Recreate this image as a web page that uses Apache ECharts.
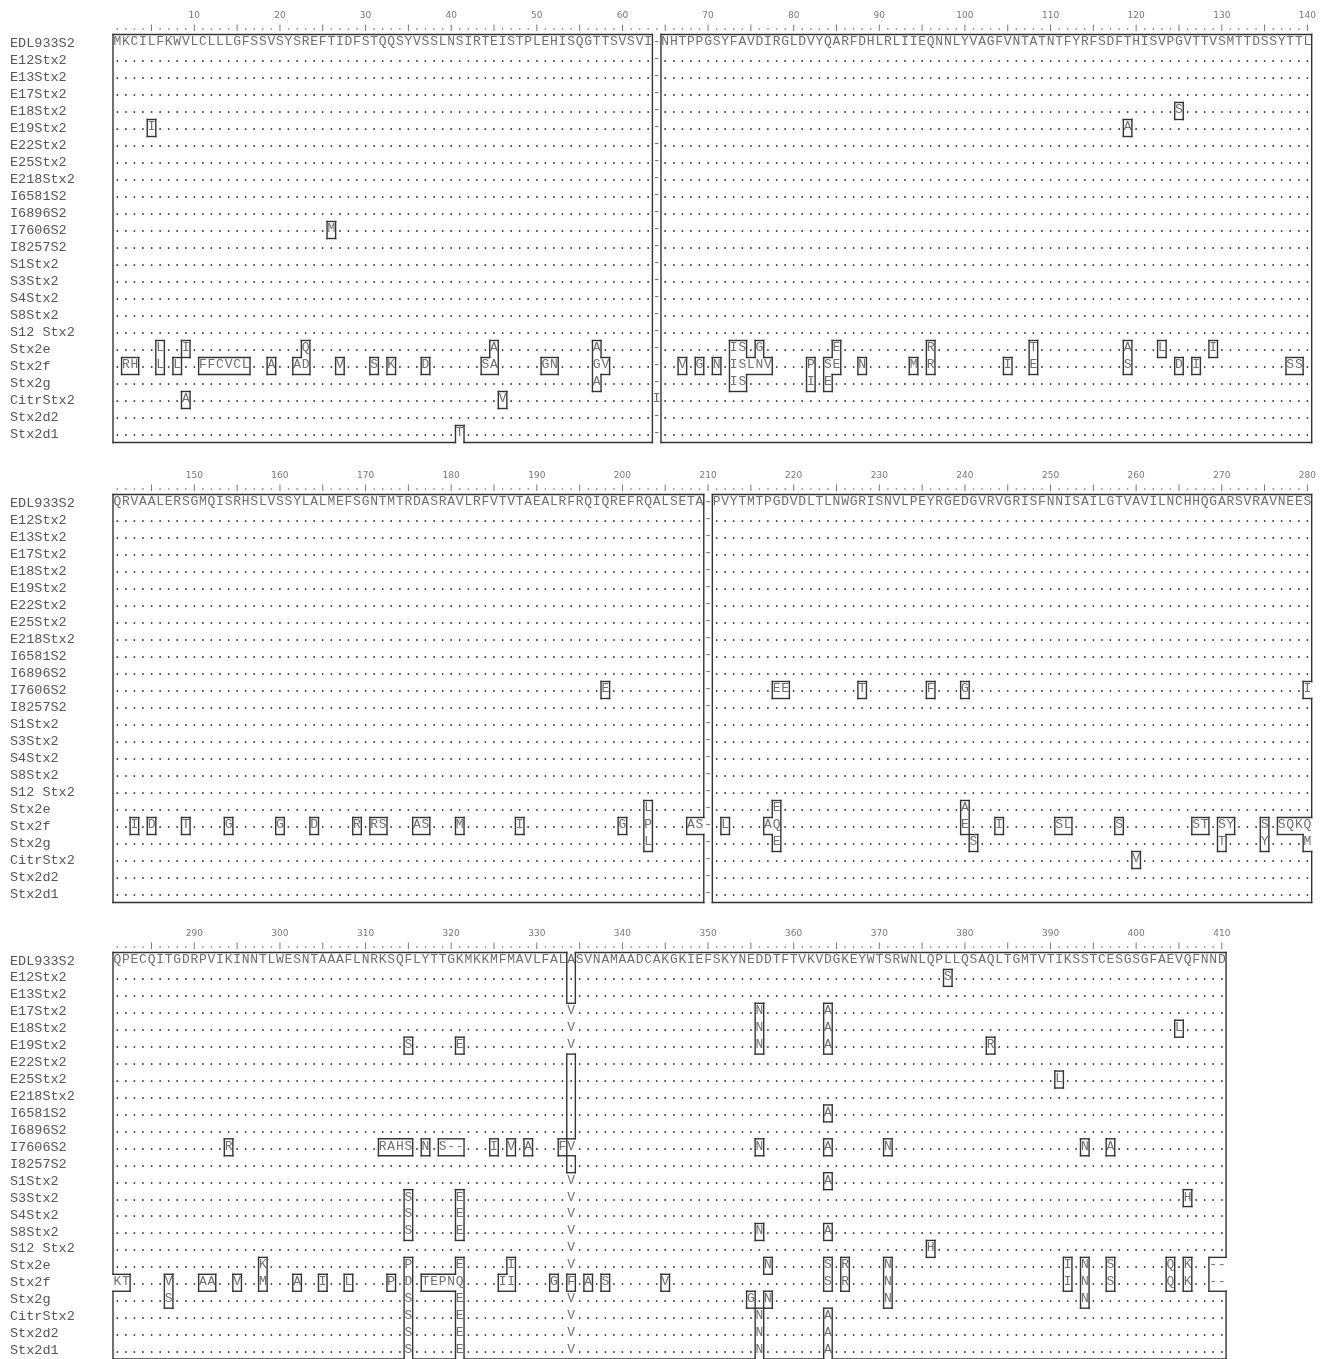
<!DOCTYPE html>
<html><head><meta charset="utf-8">
<script src="https://cdn.jsdelivr.net/npm/echarts@6/dist/echarts.min.js"></script>
<style>html,body{margin:0;padding:0;background:#fff}#c{width:1322px;height:1359px}</style>
</head><body><div id="c"></div>
<script>
// ---------- data ----------
const names = ['EDL933S2','E12Stx2','E13Stx2','E17Stx2','E18Stx2','E19Stx2','E22Stx2','E25Stx2','E218Stx2','I6581S2','I6896S2','I7606S2','I8257S2','S1Stx2','S3Stx2','S4Stx2','S8Stx2','S12 Stx2','Stx2e','Stx2f','Stx2g','CitrStx2','Stx2d2','Stx2d1'];

// reference (EDL933S2) aligned sequence, one string per block
const refBlock1 = 'MKCILFKWVLCLLLGFSSVSYSREFTIDFSTQQSYVSSLNSIRTEISTPLEHISQGTTSVSVI-NHTPPGSYFAVDIRGLDVYQARFDHLRLIIEQNNLYVAGFVNTATNTFYRFSDFTHISVPGVTTVSMTTDSSYTTL';
const refBlock2 = 'QRVAALERSGMQISRHSLVSSYLALMEFSGNTMTRDASRAVLRFVTVTAEALRFRQIQREFRQALSETA-PVYTMTPGDVDLTLNWGRISNVLPEYRGEDGVRVGRISFNNISAILGTVAVILNCHHQGARSVRAVNEES';
const refBlock3 = 'QPECQITGDRPVIKINNTLWESNTAAAFLNRKSQFLYTTGKMKKMFMAVLFALASVNAMAADCAKGKIEFSKYNEDDTFTVKVDGKEYWTSRWNLQPLLQSAQLTGMTVTIKSSTCESGSGFAEVQFNND';

const blockStart = [1, 141, 281];
const blockEnd = [140, 280, 410];
const rulerLabels1 = [10,20,30,40,50,60,70,80,90,100,110,120,130,140];
const rulerLabels2 = [150,160,170,180,190,200,210,220,230,240,250,260,270,280];
const rulerLabels3 = [290,300,310,320,330,340,350,360,370,380,390,400,410];

// substitutions relative to the reference: [alignment column, residue]
const subsEDL933S2 = [];
const subsE12Stx2 = [[378,'S']];
const subsE13Stx2 = [];
const subsE17Stx2 = [[334,'V'],[356,'N'],[364,'A']];
const subsE18Stx2 = [[125,'S'],[334,'V'],[356,'N'],[364,'A'],[405,'L']];
const subsE19Stx2 = [[5,'I'],[119,'A'],[315,'S'],[321,'E'],[334,'V'],[356,'N'],[364,'A'],[383,'R']];
const subsE22Stx2 = [];
const subsE25Stx2 = [[391,'L']];
const subsE218Stx2 = [];
const subsI6581S2 = [[364,'A']];
const subsI6896S2 = [];
const subsI7606S2 = [[26,'M'],[198,'E'],[218,'E'],[219,'E'],[228,'T'],[236,'F'],[240,'G'],[280,'I'],[294,'R'],[312,'R'],[313,'A'],[314,'H'],[315,'S'],[317,'N'],[319,'S'],[320,'-'],[321,'-'],[325,'I'],[327,'V'],[329,'A'],[333,'F'],[334,'V'],[356,'N'],[364,'A'],[371,'N'],[394,'N'],[397,'A']];
const subsI8257S2 = [];
const subsS1Stx2 = [[334,'V'],[364,'A']];
const subsS3Stx2 = [[315,'S'],[321,'E'],[334,'V'],[406,'H']];
const subsS4Stx2 = [[315,'S'],[321,'E'],[334,'V']];
const subsS8Stx2 = [[315,'S'],[321,'E'],[334,'V'],[356,'N'],[364,'A']];
const subsS12Stx2 = [[334,'V'],[376,'H']];
const subsStx2e = [[6,'L'],[9,'I'],[23,'Q'],[45,'A'],[57,'A'],[73,'I'],[74,'S'],[76,'G'],[85,'E'],[96,'R'],[108,'T'],[119,'A'],[123,'L'],[129,'I'],
  [203,'L'],[218,'E'],[240,'A'],
  [298,'K'],[315,'P'],[321,'E'],[327,'I'],[334,'V'],[357,'N'],[364,'S'],[366,'R'],[371,'N'],[392,'I'],[394,'N'],[397,'S'],[404,'Q'],[406,'K'],[409,'-'],[410,'-']];
const subsStx2f = [[2,'R'],[3,'H'],[6,'L'],[8,'L'],[11,'F'],[12,'F'],[13,'C'],[14,'V'],[15,'C'],[16,'L'],[19,'A'],[22,'A'],[23,'D'],[27,'V'],[31,'S'],[33,'K'],[37,'D'],[44,'S'],[45,'A'],[51,'G'],[52,'N'],[57,'G'],[58,'V'],[67,'V'],[69,'G'],[71,'N'],[73,'I'],[74,'S'],[75,'L'],[76,'N'],[77,'V'],[82,'P'],[84,'S'],[85,'E'],[88,'N'],[94,'M'],[96,'R'],[105,'I'],[108,'E'],[119,'S'],[125,'D'],[127,'I'],[138,'S'],[139,'S'],
  [143,'I'],[145,'D'],[149,'T'],[154,'G'],[160,'G'],[164,'D'],[169,'R'],[171,'R'],[172,'S'],[176,'A'],[177,'S'],[181,'M'],[188,'I'],[200,'G'],[203,'P'],[208,'A'],[209,'S'],[212,'L'],[217,'A'],[218,'Q'],[240,'E'],[244,'I'],[251,'S'],[252,'L'],[258,'S'],[267,'S'],[268,'T'],[270,'S'],[271,'Y'],[275,'S'],[277,'S'],[278,'Q'],[279,'K'],[280,'Q'],
  [281,'K'],[282,'T'],[287,'V'],[291,'A'],[292,'A'],[295,'V'],[298,'M'],[302,'A'],[305,'I'],[308,'L'],[313,'P'],[315,'D'],[317,'T'],[318,'E'],[319,'P'],[320,'N'],[321,'Q'],[326,'I'],[327,'I'],[332,'G'],[334,'F'],[336,'A'],[338,'S'],[345,'V'],[364,'S'],[366,'R'],[371,'N'],[392,'I'],[394,'N'],[397,'S'],[404,'Q'],[406,'K'],[409,'-'],[410,'-']];
const subsStx2g = [[57,'A'],[73,'I'],[74,'S'],[82,'I'],[84,'E'],
  [203,'L'],[218,'E'],[241,'S'],[270,'T'],[275,'Y'],[280,'M'],
  [287,'S'],[315,'S'],[321,'E'],[334,'V'],[355,'G'],[357,'N'],[371,'N'],[394,'N']];
const subsCitrStx2 = [[9,'A'],[46,'V'],[64,'I'],[260,'V'],[315,'S'],[321,'E'],[334,'V'],[356,'N'],[364,'A']];
const subsStx2d2 = [[315,'S'],[321,'E'],[334,'V'],[356,'N'],[364,'A']];
const subsStx2d1 = [[41,'T'],[315,'S'],[321,'E'],[334,'V'],[356,'N'],[364,'A']];

const subsList = [subsEDL933S2,subsE12Stx2,subsE13Stx2,subsE17Stx2,subsE18Stx2,subsE19Stx2,subsE22Stx2,subsE25Stx2,subsE218Stx2,subsI6581S2,subsI6896S2,subsI7606S2,subsI8257S2,subsS1Stx2,subsS3Stx2,subsS4Stx2,subsS8Stx2,subsS12Stx2,subsStx2e,subsStx2f,subsStx2g,subsCitrStx2,subsStx2d2,subsStx2d1];

// ---------- build alignment ----------
const ref = refBlock1 + refBlock2 + refBlock3;
const N = names.length;
const seqs = subsList.map(function (subs) {
  const a = ref.split('');
  subs.forEach(function (s) { a[s[0] - 1] = s[1]; });
  return a;
});
const cons = [];
for (let c = 0; c < ref.length; c++) {
  const cnt = {};
  let best = null, bestN = -1;
  for (let r = 0; r < N; r++) { const ch = seqs[r][c]; cnt[ch] = (cnt[ch] || 0) + 1; }
  Object.keys(cnt).forEach(function (k) { if (cnt[k] > bestN) { bestN = cnt[k]; best = k; } });
  cons.push(best);
}
function inside(r, c, b) {
  if (r < 0 || r >= N || c < blockStart[b] || c > blockEnd[b]) return false;
  const ch = seqs[r][c - 1];
  return ch !== '-' && ch === cons[c - 1];
}
function displayChar(r, c) {
  const ch = seqs[r][c - 1];
  if (r === 0) return ch;
  if (ch === ref[c - 1] && ch !== '-') return '.';
  return ch;
}

// ---------- layout ----------
const CW = 8.562, RH = 17, LEFT = 113;
const tops = [34.5, 494.5, 952.5];
const rulerLabels = [rulerLabels1, rulerLabels2, rulerLabels3];

const grids = [], xAxes = [], yAxes = [], series = [];
for (let b = 0; b < 3; b++) {
  const bs = blockStart[b], be = blockEnd[b], nc = be - bs + 1;
  grids.push({ left: LEFT, top: tops[b], width: nc * CW, height: N * RH });
  xAxes.push({
    gridIndex: b, type: 'value', min: bs - 0.5, max: be + 0.5, position: 'top',
    axisLine: { show: false }, axisTick: { show: false }, splitLine: { show: false },
    axisLabel: { customValues: rulerLabels[b], margin: 14, fontSize: 9, color: '#777', fontFamily: 'DejaVu Sans' }
  });
  yAxes.push({
    gridIndex: b, type: 'category', data: names, inverse: true, position: 'left',
    axisLine: { show: false }, axisTick: { show: false }, splitLine: { show: false },
    axisLabel: { interval: 0, align: 'left', margin: 103, fontFamily: 'Liberation Mono', fontSize: 13.5, color: '#555', padding: [0, 0, 2, 0] }
  });
  yAxes.push({ gridIndex: b, type: 'value', min: -0.5, max: N - 0.5, inverse: true, show: false, splitLine: { show: false } });

  // ruler
  const rulerData = [];
  for (let c = bs; c <= be; c++) rulerData.push([c, -0.5]);
  series.push({
    type: 'custom', xAxisIndex: b, yAxisIndex: 2 * b + 1, silent: true, animation: false, clip: false,
    data: rulerData, encode: { x: 0, y: 1 },
    renderItem: function (params, api) {
      const c = api.value(0);
      const p = api.coord([c, api.value(1)]);
      if (c % 5 === 0) {
        return { type: 'line', shape: { x1: p[0], y1: p[1] - 10, x2: p[0], y2: p[1] - 3.5 }, style: { stroke: '#777', lineWidth: 1 } };
      }
      return { type: 'rect', shape: { x: p[0] - 0.7, y: p[1] - 6.2, width: 1.4, height: 1.4 }, style: { fill: '#777' } };
    }
  });

  // residues
  const cellData = [], cellChars = [];
  for (let r = 0; r < N; r++) for (let c = bs; c <= be; c++) { cellData.push([c, r]); cellChars.push(displayChar(r, c)); }
  series.push({
    type: 'custom', xAxisIndex: b, yAxisIndex: 2 * b + 1, silent: true, animation: false, clip: false,
    data: cellData, encode: { x: 0, y: 1 },
    renderItem: (function (chars) {
      return function (params, api) {
        const ch = chars[params.dataIndex];
        const p = api.coord([api.value(0), api.value(1)]);
        const dot = ch === '.';
        return { type: 'text', x: p[0], y: p[1] - 1, style: { text: ch, fill: dot ? '#444' : '#6e6e6e', font: '13px "Liberation Mono", monospace', align: 'center', verticalAlign: 'middle' } };
      };
    })(cellChars)
  });

  // box outlines around consensus regions
  const segs = [];
  for (let r = 0; r <= N; r++) {
    let st = null;
    for (let c = bs; c <= be + 1; c++) {
      const e = c <= be && (inside(r - 1, c, b) !== inside(r, c, b));
      if (e && st === null) st = c;
      if (!e && st !== null) { segs.push([st - 0.5, r - 0.5, c - 0.5, r - 0.5]); st = null; }
    }
  }
  for (let c = bs; c <= be + 1; c++) {
    let st = null;
    for (let r = 0; r <= N; r++) {
      const e = r < N && (inside(r, c - 1, b) !== inside(r, c, b));
      if (e && st === null) st = r;
      if (!e && st !== null) { segs.push([c - 0.5, st - 0.5, c - 0.5, r - 0.5]); st = null; }
    }
  }
  series.push({
    type: 'custom', xAxisIndex: b, yAxisIndex: 2 * b + 1, silent: true, animation: false, clip: false,
    data: segs, encode: { x: [0, 2], y: [1, 3] },
    renderItem: function (params, api) {
      const a = api.coord([api.value(0), api.value(1)]);
      const e = api.coord([api.value(2), api.value(3)]);
      return { type: 'line', shape: { x1: a[0], y1: a[1], x2: e[0], y2: e[1] }, style: { stroke: '#333', lineWidth: 1.4, lineCap: 'square' } };
    }
  });
}

const chart = echarts.init(document.getElementById('c'), null, { renderer: 'canvas' });
chart.setOption({ backgroundColor: '#fff', animation: false, grid: grids, xAxis: xAxes, yAxis: yAxes, series: series });
</script></body></html>
